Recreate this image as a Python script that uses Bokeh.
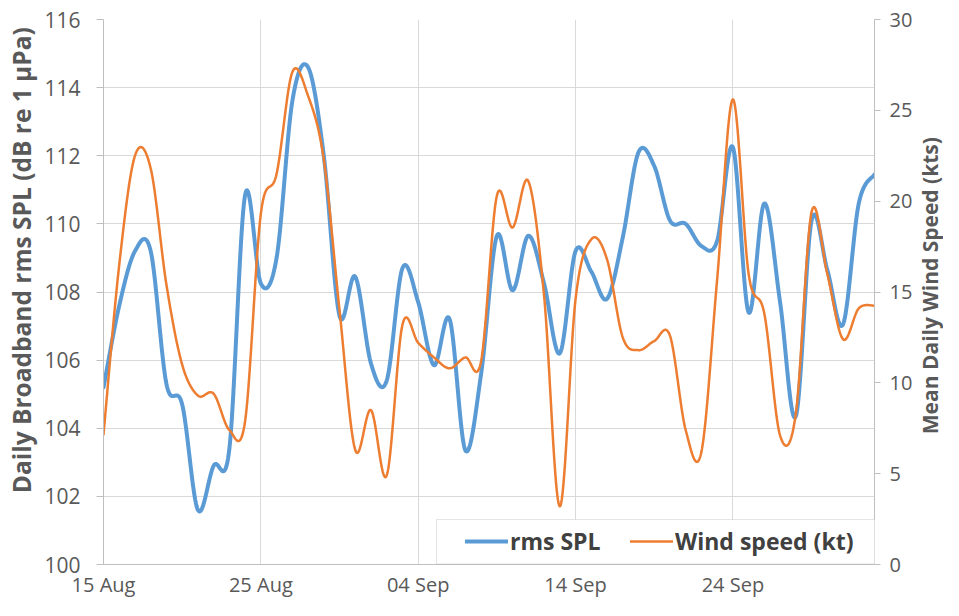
import numpy as np
import pandas as pd
from bokeh.plotting import figure
from bokeh.layouts import row
from bokeh.models import (Range1d, LinearAxis, FixedTicker, DatetimeTickFormatter,
                          Legend, LegendItem, BoxAnnotation, Label)
from bokeh.embed import file_html
from bokeh.resources import INLINE

# ---------------- data ----------------
start_date = "2015-08-15"
tick_dates = ["2015-08-15", "2015-08-25", "2015-09-04", "2015-09-14", "2015-09-24"]
left_ticks = [100, 102, 104, 106, 108, 110, 112, 114, 116]
right_ticks = [0, 5, 10, 15, 20, 25, 30]

spl = [105.2, 107.6, 109.2, 109.2, 105.3, 104.7, 101.6, 102.9, 103.4, 110.85,
       108.25, 109.0, 113.6, 114.6, 112.0, 107.3, 108.45, 105.9, 105.4, 108.7,
       107.7, 105.85, 107.2, 103.35, 105.6, 109.65, 108.05, 109.65, 108.25, 106.2,
       109.2, 108.6, 107.8, 109.6, 112.1, 111.7, 110.1, 110.0, 109.35, 109.5,
       112.25, 107.4, 110.6, 107.7, 104.35, 110.1, 108.65, 107.05, 110.6, 111.45]

wind = [7.15, 16.5, 22.5, 21.8, 15.4, 11.0, 9.3, 9.4, 7.4, 7.9,
        19.3, 21.5, 27.1, 25.8, 22.3, 14.0, 6.3, 8.5, 4.9, 13.2,
        12.2, 11.4, 10.8, 11.4, 11.2, 20.3, 18.55, 21.1, 14.8, 3.2,
        14.6, 17.9, 16.8, 12.5, 11.8, 12.3, 12.6, 7.4, 6.2, 15.7,
        25.6, 16.0, 13.8, 7.1, 8.3, 19.4, 16.0, 12.4, 14.1, 14.25]

series_names = ["rms SPL", "Wind speed (kt)"]
left_title = "Daily Broadband rms SPL (dB re 1 \u00b5Pa)"
right_title = "Mean Daily Wind Speed (kts)"

# ---------------- helpers ----------------
dates = pd.date_range(start_date, periods=len(spl), freq="D")
x_ms = dates.values.astype("datetime64[ms]").astype(np.int64).astype(float)
tick_ms = [float(pd.Timestamp(d).value // 10**6) for d in tick_dates]


def excel_smooth(xs, ys, steps=24):
    """Bezier smoothing like a spreadsheet 'smoothed line' (Catmull-Rom, 1/6)."""
    xs = np.asarray(xs, float)
    ys = np.asarray(ys, float)
    n = len(xs)
    t = np.linspace(0.0, 1.0, steps, endpoint=False)
    ox, oy = [], []
    for i in range(n - 1):
        i0 = max(i - 1, 0)
        i3 = min(i + 2, n - 1)
        p1x, p1y = xs[i], ys[i]
        p2x, p2y = xs[i + 1], ys[i + 1]
        c1x = p1x + (p2x - xs[i0]) / 6.0
        c1y = p1y + (p2y - ys[i0]) / 6.0
        c2x = p2x - (xs[i3] - p1x) / 6.0
        c2y = p2y - (ys[i3] - p1y) / 6.0
        a = (1 - t) ** 3
        b = 3 * (1 - t) ** 2 * t
        c = 3 * (1 - t) * t ** 2
        d = t ** 3
        ox.extend(a * p1x + b * c1x + c * c2x + d * p2x)
        oy.extend(a * p1y + b * c1y + c * c2y + d * p2y)
    ox.append(xs[-1])
    oy.append(ys[-1])
    return ox, oy


sx, sy = excel_smooth(x_ms, spl)
wx, wy = excel_smooth(x_ms, wind)

# ---------------- styling ----------------
FONT = "Open Sans"
TICK_COLOR = "#595959"
AXIS_LINE = "#BFBFBF"
GRID = "#D9D9D9"
H = 600
LEFT_W, MAIN_W, RIGHT_W = 40, 875, 28


def title_strip(width, text, cx, cy, size):
    f = figure(width=width, height=H, x_range=Range1d(0, width), y_range=Range1d(0, H),
               output_backend="svg", toolbar_location=None, min_border=0)
    f.axis.visible = False
    f.grid.visible = False
    f.outline_line_color = None
    f.border_fill_color = "white"
    f.background_fill_color = "white"
    f.add_layout(Label(x=cx, y=cy, text=text, angle=np.pi / 2,
                       text_align="center", text_baseline="middle",
                       text_font=FONT, text_font_style="bold",
                       text_font_size=size, text_color=TICK_COLOR))
    return f


# ---------------- main figure ----------------
p = figure(width=MAIN_W, height=H, x_axis_type="datetime",
           x_range=Range1d(x_ms[0], x_ms[-1]), y_range=Range1d(100, 116),
           output_backend="svg", toolbar_location=None,
           min_border_left=63, min_border_right=40,
           min_border_top=19, min_border_bottom=34)
p.extra_y_ranges = {"wind": Range1d(0, 30)}
p.outline_line_color = None
p.background_fill_color = "white"
p.border_fill_color = "white"

r1 = p.line(sx, sy, line_color="#5B9BD5", line_width=4, line_join="round", line_cap="round")
r2 = p.line(wx, wy, y_range_name="wind", line_color="#ED7D31", line_width=2.5,
            line_join="round", line_cap="round")

# x axis
xa = p.xaxis[0]
xa.ticker = FixedTicker(ticks=tick_ms)
xa.formatter = DatetimeTickFormatter(days="%d %b", months="%d %b", years="%d %b",
                                     hours="%d %b", strip_leading_zeros=False)
xa.major_tick_out = 0
xa.major_tick_in = 0
xa.minor_tick_out = 0
xa.minor_tick_in = 0
xa.axis_line_color = AXIS_LINE
xa.major_label_standoff = 6
xa.major_label_text_font = FONT
xa.major_label_text_font_size = "20px"
xa.major_label_text_color = TICK_COLOR

# left axis
ya = p.yaxis[0]
ya.ticker = FixedTicker(ticks=left_ticks)
ya.major_tick_out = 7
ya.major_tick_in = 0
ya.minor_tick_out = 0
ya.minor_tick_in = 0
ya.major_tick_line_color = AXIS_LINE
ya.axis_line_color = AXIS_LINE
ya.major_label_standoff = 16
ya.major_label_text_font = FONT
ya.major_label_text_font_size = "21px"
ya.major_label_text_color = TICK_COLOR

# right axis
ra = LinearAxis(y_range_name="wind", ticker=FixedTicker(ticks=right_ticks))
ra.major_tick_out = 6
ra.major_tick_in = 0
ra.minor_tick_out = 0
ra.minor_tick_in = 0
ra.major_tick_line_color = AXIS_LINE
ra.axis_line_color = AXIS_LINE
ra.major_label_standoff = 9
ra.major_label_text_font = FONT
ra.major_label_text_font_size = "20px"
ra.major_label_text_color = TICK_COLOR
p.add_layout(ra, "right")

p.xgrid.grid_line_color = GRID
p.ygrid.grid_line_color = GRID
p.xgrid.grid_line_width = 1
p.ygrid.grid_line_width = 1

# legend box + legend
p.add_layout(BoxAnnotation(left=333, right=779, bottom=0.5, top=45,
                           left_units="screen", right_units="screen",
                           bottom_units="screen", top_units="screen",
                           fill_color="white", fill_alpha=1.0,
                           line_color="#A6A6A6", line_width=1))
legend = Legend(items=[LegendItem(label=series_names[0], renderers=[r1]),
                       LegendItem(label=series_names[1], renderers=[r2])],
                orientation="horizontal", location=(356, 1),
                glyph_width=43, glyph_height=20, label_standoff=2,
                label_width=120, spacing=0, padding=6, margin=0,
                border_line_alpha=0, background_fill_alpha=0,
                label_text_font=FONT, label_text_font_style="bold",
                label_text_font_size="23px", label_text_color="#404040")
p.add_layout(legend)

# axis titles in narrow strips on both sides (both read bottom-to-top)
left_strip = title_strip(LEFT_W, left_title, 21, H - 265, "24.5px")
right_strip = title_strip(RIGHT_W, right_title, 14.5, H - 293, "21px")

layout = row(left_strip, p, right_strip, spacing=0)
open("out.html", "w").write(file_html(layout, INLINE))
